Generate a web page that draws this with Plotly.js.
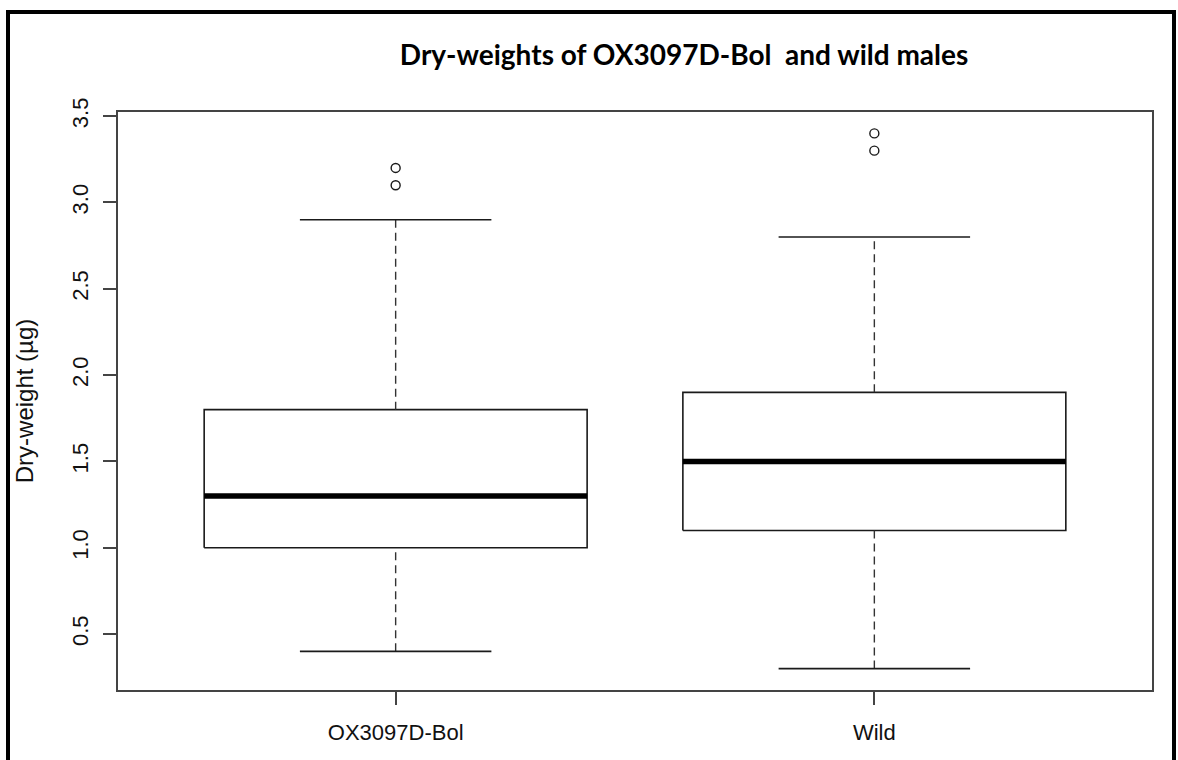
<!DOCTYPE html>
<html>
<head>
<meta charset="utf-8">
<script src="https://cdn.plot.ly/plotly-3.0.1.min.js"></script>
<style>
  html, body { margin: 0; padding: 0; background: #fff; overflow: hidden; }
  #wrap { position: relative; width: 1178px; height: 760px; }
  #chart { width: 1178px; height: 760px; }
  #frame { position: absolute; left: 6px; top: 10px; width: 1170px; height: 800px;
           box-sizing: border-box; border: 4px solid #000; pointer-events: none; }
</style>
</head>
<body>
<div id="wrap">
  <div id="chart"></div>
  <div id="frame"></div>
</div>
<script>
// ---- data ----
const categories   = ['OX3097D-Bol', 'Wild'];
const whiskerLow   = [0.4, 0.3];
const q1           = [1.0, 1.1];
const medians      = [1.3, 1.5];
const q3           = [1.8, 1.9];
const whiskerHigh  = [2.9, 2.8];
const outliers     = [[3.1, 3.2], [3.3, 3.4]];

// ---- styling constants ----
const HALF_BOX = 0.4;   // box half width (category units)
const HALF_CAP = 0.2;   // staple half width
const INK = '#1a1a1a';

const traces = [];
categories.forEach((cat, k) => {
  const x = k + 1;
  // box
  traces.push({
    type: 'scatter', mode: 'lines', hoverinfo: 'skip', showlegend: false,
    x: [x - HALF_BOX, x + HALF_BOX, x + HALF_BOX, x - HALF_BOX, x - HALF_BOX],
    y: [q1[k], q1[k], q3[k], q3[k], q1[k]],
    line: { color: INK, width: 1.6 }
  });
  // whiskers (dashed)
  traces.push({
    type: 'scatter', mode: 'lines', hoverinfo: 'skip', showlegend: false,
    x: [x, x, null, x, x],
    y: [q3[k], whiskerHigh[k], null, whiskerLow[k], q1[k]],
    line: { color: '#333', width: 1.4, dash: '8px,5px' }
  });
  // staples
  traces.push({
    type: 'scatter', mode: 'lines', hoverinfo: 'skip', showlegend: false,
    x: [x - HALF_CAP, x + HALF_CAP, null, x - HALF_CAP, x + HALF_CAP],
    y: [whiskerHigh[k], whiskerHigh[k], null, whiskerLow[k], whiskerLow[k]],
    line: { color: INK, width: 1.6 }
  });
  // median
  traces.push({
    type: 'scatter', mode: 'lines', hoverinfo: 'skip', showlegend: false,
    x: [x - HALF_BOX, x + HALF_BOX],
    y: [medians[k], medians[k]],
    line: { color: '#000', width: 5.5 }
  });
  // outliers
  traces.push({
    type: 'scatter', mode: 'markers', hoverinfo: 'skip', showlegend: false,
    x: outliers[k].map(() => x),
    y: outliers[k],
    marker: { symbol: 'circle-open', size: 9, color: INK, line: { width: 1.4, color: INK } }
  });
});

// R-style axis extension (4%)
const allVals = [].concat(whiskerLow, whiskerHigh, ...outliers);
const yMin = Math.min(...allVals), yMax = Math.max(...allVals);
const yPad = (yMax - yMin) * 0.04;
const xPad = (categories.length + 0.5 - 0.5) * 0.04;

const tickVals = [0.5, 1.0, 1.5, 2.0, 2.5, 3.0, 3.5];
const tickText = ['0.5', '1.0', '1.5', '2.0', '2.5', '3.0', '3.5'];

const layout = {
  width: 1178, height: 760,
  paper_bgcolor: '#fff', plot_bgcolor: '#fff',
  margin: { l: 118, r: 26, t: 112, b: 70 },
  showlegend: false,
  title: {
    text: 'Dry-weights of OX3097D-Bol\u00A0 and wild males',
    font: { family: 'Lato', size: 28, color: '#000', weight: 'bold' },
    x: 0.5807, xanchor: 'center', y: 0.9276, yanchor: 'middle'
  },
  xaxis: {
    range: [0.5 - xPad, categories.length + 0.5 + xPad],
    tickvals: categories.map((c, i) => i + 1), ticktext: categories,
    showgrid: false, zeroline: false,
    showline: true, mirror: true, linecolor: '#444', linewidth: 2,
    ticks: 'outside', ticklen: 13, tickwidth: 2, tickcolor: '#444',
    ticklabelstandoff: 9,
    tickfont: { family: 'Liberation Sans, Arial, sans-serif', size: 22, color: '#111' }
  },
  yaxis: {
    range: [yMin - yPad, yMax + yPad],
    tickvals: tickVals, ticktext: tickText, tickangle: -90,
    showgrid: false, zeroline: false,
    showline: true, mirror: true, linecolor: '#444', linewidth: 2,
    ticks: 'outside', ticklen: 13, tickwidth: 2, tickcolor: '#444',
    ticklabelstandoff: 6,
    tickfont: { family: 'Liberation Sans, Arial, sans-serif', size: 22, color: '#111' },
    title: { text: 'Dry-weight (\u00B5g)', standoff: 28,
             font: { family: 'Liberation Sans, Arial, sans-serif', size: 24, color: '#111' } }
  }
};

Plotly.newPlot('chart', traces, layout, { staticPlot: true, displayModeBar: false });
</script>
</body>
</html>
